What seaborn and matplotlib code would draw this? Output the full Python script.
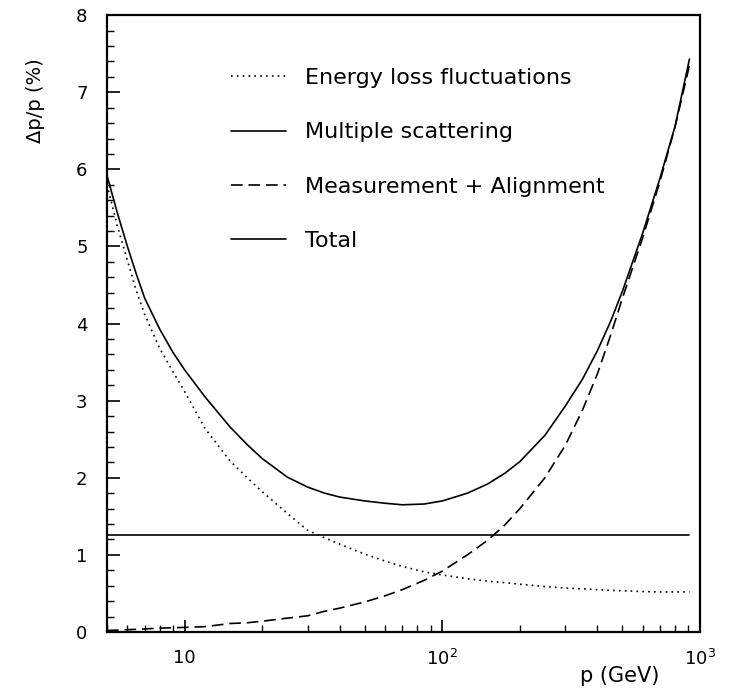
import numpy as np
import pandas as pd
import matplotlib
matplotlib.use("Agg")
import matplotlib.pyplot as plt
import seaborn as sns
from matplotlib.ticker import FixedLocator, NullFormatter, LogLocator

# ---- data ----
p_gev = [5, 5.5, 6, 6.5, 7, 8, 9, 10, 12, 15, 17.5, 20, 25, 30, 35, 40, 50, 60,
         70, 85, 100, 125, 150, 175, 200, 250, 300, 350, 400, 450, 500, 600,
         700, 800, 910]
energy_loss = [5.80, 5.25, 4.82, 4.42, 4.12, 3.68, 3.38, 3.12, 2.64, 2.22, 2.00,
               1.82, 1.54, 1.32, 1.22, 1.14, 1.01, 0.92, 0.85, 0.78, 0.74, 0.69,
               0.66, 0.64, 0.62, 0.59, 0.57, 0.56, 0.55, 0.54, 0.535, 0.525,
               0.52, 0.52, 0.52]
multiple_scattering = [1.26] * len(p_gev)
measurement_alignment = [0.02, 0.025, 0.03, 0.035, 0.04, 0.05, 0.055, 0.06, 0.07,
                         0.11, 0.12, 0.14, 0.18, 0.21, 0.27, 0.31, 0.39, 0.47,
                         0.55, 0.67, 0.79, 1.00, 1.19, 1.39, 1.60, 2.00, 2.42,
                         2.88, 3.35, 3.85, 4.33, 5.12, 5.85, 6.55, 7.35]
total = [5.92, 5.42, 5.00, 4.64, 4.33, 3.93, 3.63, 3.40, 3.05, 2.66, 2.43, 2.25,
         2.01, 1.88, 1.80, 1.75, 1.70, 1.67, 1.65, 1.66, 1.70, 1.80, 1.92, 2.06,
         2.21, 2.55, 2.93, 3.28, 3.65, 4.03, 4.42, 5.18, 5.89, 6.56, 7.43]

series_names = ["Energy loss fluctuations", "Multiple scattering",
                "Measurement + Alignment", "Total"]
series_values = [energy_loss, multiple_scattering, measurement_alignment, total]

x_ticks = [10, 100, 1000]
x_tick_labels = ["10", r"$10^{2}$", r"$10^{3}$"]
y_ticks = [0, 1, 2, 3, 4, 5, 6, 7, 8]

df = pd.concat([pd.DataFrame({"p": p_gev, "v": vals, "series": name})
                for name, vals in zip(series_names, series_values)],
               ignore_index=True)

sns.set_style("ticks")
plt.rcParams["font.family"] = ["DejaVu Sans"]

fig = plt.figure(figsize=(7.33, 6.89), dpi=100)
ax = fig.add_axes([0.146, 0.0827, 0.809, 0.8953])

styles = {
    "Energy loss fluctuations": (0, (1, 2.5)),
    "Multiple scattering": "-",
    "Measurement + Alignment": (0, (7, 3.5)),
    "Total": "-",
}
for name in series_names:
    sub = df[df["series"] == name]
    sns.lineplot(data=sub, x="p", y="v", ax=ax, color="black", linewidth=1.2,
                 linestyle=styles[name], label=name, sort=False)

ax.set_xscale("log")
ax.set_xlim(5, 1000)
ax.set_ylim(0, 8)

ax.xaxis.set_major_locator(FixedLocator(x_ticks))
ax.set_xticklabels(x_tick_labels)
ax.xaxis.set_minor_locator(LogLocator(base=10, subs=np.arange(2, 10)))
ax.xaxis.set_minor_formatter(NullFormatter())
ax.set_yticks(y_ticks)
ax.set_yticklabels([str(t) for t in y_ticks])
ax.yaxis.set_minor_locator(FixedLocator(np.arange(0, 8.01, 0.2)))

ax.tick_params(axis="both", which="major", direction="in", length=9, width=1.2,
               labelsize=13, top=False, right=False, colors="black")
ax.tick_params(axis="both", which="minor", direction="in", length=5, width=1.0,
               top=False, right=False, colors="black")
ax.tick_params(axis="y", which="major", pad=14)
ax.tick_params(axis="x", which="major", pad=12)

for s in ax.spines.values():
    s.set_visible(True)
    s.set_linewidth(1.6)
    s.set_color("black")

ax.set_xlabel("p (GeV)", fontsize=15, color="black")
ax.xaxis.set_label_coords(0.865, -0.055)
ax.set_ylabel("Δp/p (%)", fontsize=14, color="black")
ax.yaxis.set_label_coords(-0.105, 0.862)

leg = ax.legend(loc="upper left", bbox_to_anchor=(0.175, 0.947), frameon=False,
                fontsize=16, handlelength=2.5, handletextpad=0.85,
                labelspacing=1.55)
for t in leg.get_texts():
    t.set_color("black")

fig.savefig("out.png", dpi=100)
